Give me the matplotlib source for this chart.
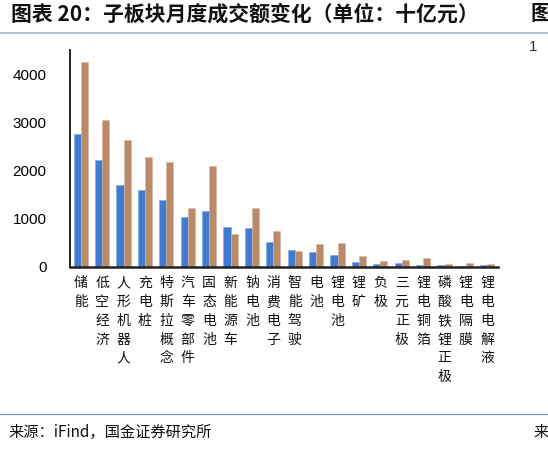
import numpy as np
import matplotlib.pyplot as plt
from matplotlib.transforms import blended_transform_factory

plt.rcParams['font.family'] = ['Noto Sans CJK SC', 'DejaVu Sans']

# DATA SECTION------------------------------------------------------------------
categories = ['储能', '低空经济', '人形机器人', '充电桩', '特斯拉概念', '汽车零部件',
              '固态电池', '新能源车', '钠电池', '消费电子', '智能驾驶', '电池', '锂电池',
              '锂矿', '负极', '三元正极', '锂电铜箔', '磷酸铁锂正极', '锂电隔膜',
              '锂电电解液']
series_a = [2763, 2223, 1700, 1602, 1395, 1042, 1167, 835, 808, 515,
            360, 305, 242, 97, 56, 90, 49, 35, 14, 35]
series_b = [4258, 3046, 2632, 2280, 2182, 1222, 2100, 690, 1229, 746,
            325, 477, 491, 235, 118, 152, 194, 70, 76, 56]
yticks = [0, 1000, 2000, 3000, 4000]

blue = '#3F7CD1'
brown = '#BA8A6B'

# FIGURE SECTION----------------------------------------------------------------
fig = plt.figure(figsize=(5.48, 4.54), dpi=100)
ax = fig.add_axes([70/548, 1-267/454, 428/548, 217/454])

x = np.arange(len(categories))
w = 0.33
ax.bar(x - w/2, series_a, w, color=blue, edgecolor='#7FA7E0', linewidth=0.4)
ax.bar(x + w/2, series_b, w, color=brown, edgecolor='#D6B6A2', linewidth=0.4)

ax.set_xlim(-0.5, len(categories) - 0.5)
ax.set_ylim(0, 4500)
ax.set_yticks(yticks)
ax.set_yticklabels([str(v) for v in yticks], family='Liberation Sans', fontsize=11)
ax.tick_params(axis='y', length=0, pad=17)
ax.set_xticks([])

for s in ['top', 'right']:
    ax.spines[s].set_visible(False)
ax.spines['left'].set_color('#111111')
ax.spines['left'].set_linewidth(1.3)
ax.spines['bottom'].set_color('#222222')
ax.spines['bottom'].set_linewidth(1.8)

# vertical category labels, one character per line
trans = blended_transform_factory(ax.transData, fig.transFigure)
for i, c in enumerate(categories):
    ax.text(i, 1-276/454, '\n'.join(c), transform=trans,
            ha='center', va='top', fontsize=10, linespacing=1.44, color='#111111')

# TITLE / FOOTER SECTION--------------------------------------------------------
fig.text(11/548, 1-14/454, '图表 20：子板块月度成交额变化（单位：十亿元）',
         fontsize=15, fontweight='bold', va='center', ha='left', color='#111111')
fig.text(530/548, 1-14/454, '图', fontsize=15, fontweight='bold',
         va='center', ha='left', color='#111111')
fig.text(529/548, 1-47/454, '1', fontsize=11, family='Liberation Sans',
         va='center', ha='left', color='#333333')
fig.add_artist(plt.Line2D([0, 1], [1-33/454, 1-33/454], color='#AFC3D6',
                          linewidth=1.5, transform=fig.transFigure))
fig.add_artist(plt.Line2D([0, 1], [1-414/454, 1-414/454], color='#7F9DB9',
                          linewidth=1.0, transform=fig.transFigure))
fig.text(8/548, 1-432/454, '来源：iFind，国金证券研究所', fontsize=11,
         va='center', ha='left', color='#111111')
fig.text(533/548, 1-432/454, '来', fontsize=11, va='center', ha='left', color='#111111')

fig.savefig('out.png', dpi=100)
